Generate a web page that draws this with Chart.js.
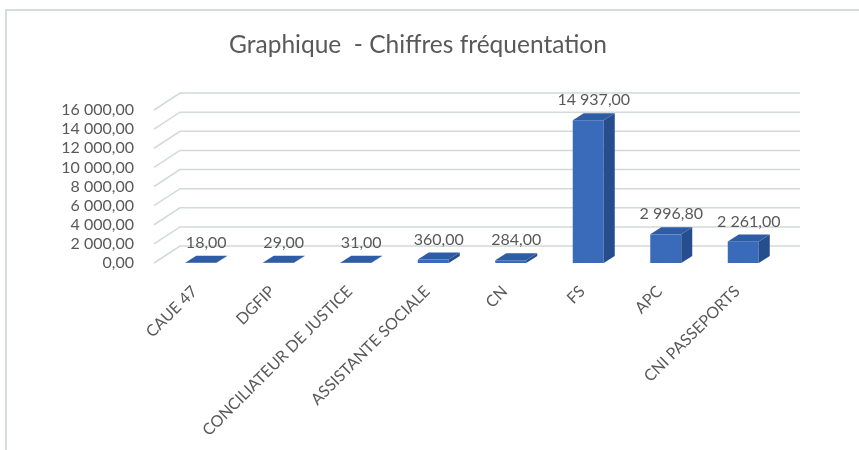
<!DOCTYPE html>
<html>
<head>
<meta charset="utf-8">
<script src="https://cdn.jsdelivr.net/npm/chart.js@4.4.1/dist/chart.umd.min.js"></script>
<style>
  html, body { margin: 0; padding: 0; background: #fff; }
  #wrap { position: relative; width: 859px; height: 450px; }
  #frame { position: absolute; left: 5px; top: 9px; right: 0; bottom: 0;
           border-top: 2px solid #d6dbdb; border-left: 2px solid #d6dbdb; pointer-events: none; }
  canvas { position: absolute; left: 0; top: 0; }
</style>
</head>
<body>
<div id="wrap">
  <canvas id="chart" width="859" height="450"></canvas>
  <div id="frame"></div>
</div>
<script>
// data
const chartTitle = 'Graphique  - Chiffres fréquentation';
const categories = ['CAUE 47', 'DGFIP', 'CONCILIATEUR DE JUSTICE', 'ASSISTANTE SOCIALE', 'CN', 'FS', 'APC', 'CNI PASSEPORTS'];
const visits = [18, 29, 31, 360, 284, 14937, 2996.8, 2261];
const yMax = 16000;
const yStep = 2000;

const textColor = '#595959';
const fontFamily = 'Lato, "Open Sans", sans-serif';

// "16 000,00" style numbers
const fmt = v => {
    const [i, d] = Number(v).toFixed(2).split('.');
    return i.replace(/\B(?=(\d{3})+(?!\d))/g, ' ') + ',' + d;
};

const depth = { dx: 11, dy: -7 };   // bar depth
const wall = { dx: 26, dy: -17 };   // back wall offset of the grid

// gridlines drawn as a floor-less back wall, like the excel 3D column
const grid3d = {
    id: 'grid3d',
    beforeDatasetsDraw(chart) {
        const { ctx, chartArea, scales: { y } } = chart;
        ctx.save();
        ctx.strokeStyle = '#d3d9d9';
        ctx.lineWidth = 1.5;
        y.ticks.forEach(t => {
            const py = y.getPixelForValue(t.value);
            const x0 = chartArea.left - 8;
            ctx.beginPath();
            ctx.moveTo(x0, py);
            ctx.lineTo(x0 + wall.dx, py + wall.dy);
            ctx.lineTo(chartArea.right + 18, py + wall.dy);
            ctx.stroke();
        });
        ctx.restore();
    }
};

// side and top faces of the columns plus the value labels
const bars3d = {
    id: 'bars3d',
    afterDatasetsDraw(chart) {
        const { ctx } = chart;
        const meta = chart.getDatasetMeta(0);
        ctx.save();
        meta.data.forEach((bar, i) => {
            const { x, y, base, width } = bar.getProps(['x', 'y', 'base', 'width'], true);
            const l = x - width / 2, r = x + width / 2;
            // side
            ctx.fillStyle = '#264e8c';
            ctx.beginPath();
            ctx.moveTo(r, y);
            ctx.lineTo(r + depth.dx, y + depth.dy);
            ctx.lineTo(r + depth.dx, base + depth.dy);
            ctx.lineTo(r, base);
            ctx.closePath();
            ctx.fill();
            // top
            ctx.fillStyle = '#2e5ca5';
            ctx.beginPath();
            ctx.moveTo(l, y);
            ctx.lineTo(l + depth.dx, y + depth.dy);
            ctx.lineTo(r + depth.dx, y + depth.dy);
            ctx.lineTo(r, y);
            ctx.closePath();
            ctx.fill();
            // value
            ctx.fillStyle = textColor;
            ctx.font = '16px ' + fontFamily;
            ctx.textAlign = 'center';
            ctx.textBaseline = 'bottom';
            ctx.fillText(fmt(visits[i]), x + depth.dx / 2, y + depth.dy - 5);
        });
        ctx.restore();
    }
};

const titlePlugin = {
    id: 'titleText',
    afterDraw(chart) {
        const { ctx } = chart;
        ctx.save();
        ctx.fillStyle = textColor;
        ctx.font = '24.5px ' + fontFamily;
        ctx.textAlign = 'center';
        ctx.textBaseline = 'middle';
        ctx.fillText(chartTitle, 418, 45);
        ctx.restore();
    }
};

new Chart(document.getElementById('chart').getContext('2d'), {
    type: 'bar',
    data: {
        labels: categories,
        datasets: [{
            label: 'Fréquentation',
            data: visits,
            backgroundColor: '#3a6bbb',
            borderWidth: 0,
            barPercentage: 0.4,
            categoryPercentage: 1
        }]
    },
    options: {
        responsive: false,
        animation: false,
        layout: { padding: { top: 110, right: 77, left: 0, bottom: 0 } },
        plugins: {
            legend: { display: false },
            title: { display: false },
            tooltip: { enabled: false }
        },
        scales: {
            x: {
                grid: { display: false },
                border: { display: false },
                ticks: {
                    color: textColor,
                    font: { family: fontFamily, size: 16 },
                    minRotation: 45,
                    maxRotation: 45,
                    padding: 11,
                    labelOffset: -6,
                    autoSkip: false
                },
                afterFit(scale) { scale.height = 187; }
            },
            y: {
                min: 0,
                max: yMax,
                grid: { display: false },
                border: { display: false },
                ticks: {
                    stepSize: yStep,
                    autoSkip: false,
                    color: textColor,
                    font: { family: fontFamily, size: 16 },
                    padding: 20,
                    callback: v => fmt(v)
                },
                afterFit(scale) { scale.width = 162; }
            }
        }
    },
    plugins: [grid3d, bars3d, titlePlugin]
});
</script>
</body>
</html>
